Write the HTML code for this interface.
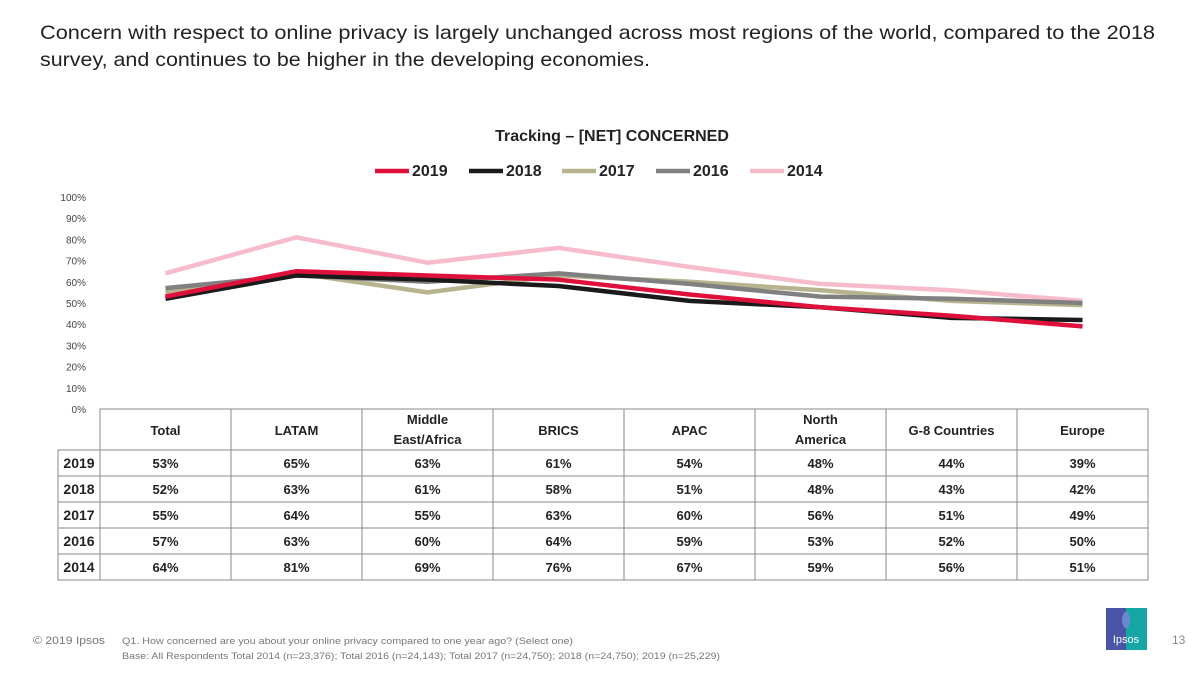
<!DOCTYPE html>
<html><head><meta charset="utf-8"><style>
body{margin:0;background:#fff;font-family:"Liberation Sans",sans-serif;}
svg{display:block}
</style></head><body>
<svg id="chart" width="1200" height="675" xmlns="http://www.w3.org/2000/svg">
<text x="40" y="39" font-size="19.5" fill="#222" textLength="1115" lengthAdjust="spacingAndGlyphs">Concern with respect to online privacy is largely unchanged across most regions of the world, compared to the 2018</text>
<text x="40" y="66" font-size="19.5" fill="#222" textLength="610" lengthAdjust="spacingAndGlyphs">survey, and continues to be higher in the developing economies.</text>
<text x="612" y="141" font-size="16" font-weight="bold" text-anchor="middle" fill="#222">Tracking – [NET] CONCERNED</text>
<g id="legend"></g>
<g id="yaxis"></g>
<g id="lines"></g>
<g id="table"></g>
<text x="33" y="644" font-size="11" fill="#777" textLength="72" lengthAdjust="spacingAndGlyphs">© 2019 Ipsos</text>
<text x="122" y="644" font-size="9" fill="#777" textLength="451" lengthAdjust="spacingAndGlyphs">Q1. How concerned are you about your online privacy compared to one year ago? (Select one)</text>
<text x="122" y="659" font-size="9" fill="#777" textLength="598" lengthAdjust="spacingAndGlyphs">Base: All Respondents Total 2014 (n=23,376); Total 2016 (n=24,143); Total 2017 (n=24,750); 2018 (n=24,750); 2019 (n=25,229)</text>
<g>
<rect x="1106" y="608" width="20" height="42" fill="#4a55a8"/><rect x="1126" y="608" width="21" height="42" fill="#17a6a6"/>
<ellipse cx="1126" cy="620" rx="4" ry="8" fill="#6a8ad0"/>
<text x="1126" y="643" font-size="11" fill="#fff" text-anchor="middle">Ipsos</text>
</g>
<text x="1172" y="644" font-size="12" fill="#888">13</text>
</svg>
<script>
const categories=["Total","LATAM","Middle East/Africa","BRICS","APAC","North America","G-8 Countries","Europe"];
const years=["2019","2018","2017","2016","2014"];
const s2019=[53,65,63,61,54,48,44,39];
const s2018=[52,63,61,58,51,48,43,42];
const s2017=[55,64,55,63,60,56,51,49];
const s2016=[57,63,60,64,59,53,52,50];
const s2014=[64,81,69,76,67,59,56,51];
const yTicks=[0,10,20,30,40,50,60,70,80,90,100];
const colors={"2019":"#e0103c","2018":"#1a1a1a","2017":"#b7b38f","2016":"#808080","2014":"#f7bccb"};
const seriesMap={"2019":s2019,"2018":s2018,"2017":s2017,"2016":s2016,"2014":s2014};
const NS="http://www.w3.org/2000/svg";
const left=100,right=1148,colW=(right-left)/categories.length;
const y0=409,y100=197;
const xPos=i=>left+colW*(i+0.5);
const yPos=v=>y0-(y0-y100)*v/100;
function mk(tag,attrs,parent){const e=document.createElementNS(NS,tag);for(const k in attrs)e.setAttribute(k,attrs[k]);parent.appendChild(e);return e;}
const yg=document.getElementById('yaxis');
yTicks.forEach(t=>{const e=mk('text',{x:86,y:yPos(t)+4,'font-size':10,'text-anchor':'end',fill:'#444'},yg);e.textContent=t+'%';

});
const lg=document.getElementById('lines');
["2014","2017","2016","2018","2019"].forEach(yr=>{const pts=seriesMap[yr].map((v,i)=>xPos(i)+','+yPos(v)).join(' ');
const p=mk('polyline',{points:pts,fill:'none',stroke:colors[yr],'stroke-width':4.5,'stroke-linejoin':'round'},lg);

});
const leg=document.getElementById('legend');
const legX=[375,469,562,656,750];
years.forEach((yr,i)=>{const g=mk('g',{},leg);


mk('line',{x1:legX[i],x2:legX[i]+34,y1:171,y2:171,stroke:colors[yr],'stroke-width':4.5},g);
const t=mk('text',{x:legX[i]+37,y:176,'font-size':16,'font-weight':'bold',fill:'#222'},g);t.textContent=yr;});
const tg=document.getElementById('table');
const stroke='#888';
const hTop=409,hBot=450,rowH=26,lblL=58;
mk('rect',{x:left,y:hTop,width:right-left,height:hBot-hTop,fill:'none',stroke:stroke},tg);
for(let i=1;i<categories.length;i++)mk('line',{x1:left+colW*i,x2:left+colW*i,y1:hTop,y2:hBot+rowH*years.length,stroke:stroke},tg);
mk('rect',{x:lblL,y:hBot,width:right-lblL,height:rowH*years.length,fill:'none',stroke:stroke},tg);
mk('line',{x1:left,x2:left,y1:hBot,y2:hBot+rowH*years.length,stroke:stroke},tg);
for(let r=1;r<years.length;r++)mk('line',{x1:lblL,x2:right,y1:hBot+rowH*r,y2:hBot+rowH*r,stroke:stroke},tg);
const wrap={"Middle East/Africa":["Middle","East/Africa"],"North America":["North","America"]};
categories.forEach((c,i)=>{const lines=wrap[c]||[c];
const t=mk('text',{x:xPos(i),'font-size':13,'font-weight':'bold','text-anchor':'middle',fill:'#222'},tg);


if(lines.length===1){t.setAttribute('y',435);t.textContent=c;}
else{lines.forEach((l,k)=>{const s=mk('tspan',{x:xPos(i),y:424+k*20},t);s.textContent=l;});}});
years.forEach((yr,r)=>{const cy=hBot+rowH*r+18;
const l=mk('text',{x:(lblL+left)/2,y:cy,'font-size':14,'font-weight':'bold','text-anchor':'middle',fill:'#222'},tg);l.textContent=yr;


seriesMap[yr].forEach((v,i)=>{const t=mk('text',{x:xPos(i),y:cy,'font-size':13,'font-weight':'bold','text-anchor':'middle',fill:'#222'},tg);t.textContent=v+'%';

});});
</script>
</body></html>
